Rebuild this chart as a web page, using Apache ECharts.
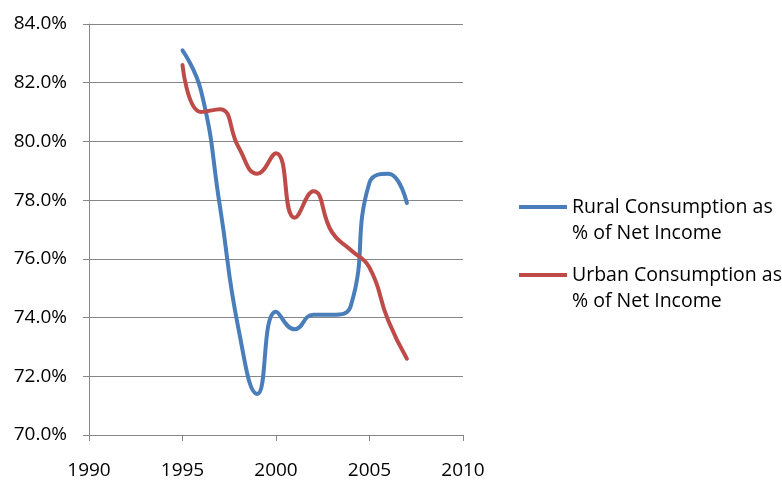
<!DOCTYPE html>
<html>
<head>
<meta charset="utf-8">
<script src="https://cdn.jsdelivr.net/npm/echarts@6/dist/echarts.min.js"></script>
<style>
  html, body { margin: 0; padding: 0; background: #fff; }
  #chart { width: 782px; height: 481px; }
</style>
</head>
<body>
<div id="chart"></div>
<script>
// values, in percent
const years = [1995, 1996, 1997, 1998, 1999, 2000, 2001, 2002, 2003, 2004, 2005, 2006, 2007];
const rural = [83.1, 81.7, 77.8, 73.6, 71.4, 74.2, 73.6, 74.1, 74.1, 74.4, 78.6, 78.9, 77.9];
const urban = [82.6, 81.0, 81.1, 79.8, 78.9, 79.6, 77.4, 78.3, 76.9, 76.3, 75.7, 73.9, 72.6];
const seriesNames = ['Rural Consumption as\n% of Net Income', 'Urban Consumption as\n% of Net Income'];

const axisGrey = '#868686';
const font = 'Open Sans';

let chart = echarts.init(document.getElementById('chart'));

function pairs(vals) {
  return years.map(function (y, i) { return [y, vals[i]]; });
}

chart.setOption({
  animation: false,
  grid: { left: 89, right: 319, top: 24, bottom: 46 },
  legend: {
    orient: 'vertical',
    left: 519,
    top: 194,
    padding: 0,
    itemWidth: 48,
    itemHeight: 52,
    itemGap: 16,
    // thick line near the top of the box so it sits beside the first text line
    icon: 'path://M0,0h0.01v0.01h-0.01Z M0,11H48V15H0Z M0,52h0.01v-0.01h-0.01Z',
    textStyle: { fontFamily: font, fontSize: 19.5, color: '#000', lineHeight: 26 },
    data: seriesNames
  },
  xAxis: {
    type: 'value',
    min: 1990,
    max: 2010,
    interval: 5,
    axisLine: { lineStyle: { color: axisGrey, width: 1 } },
    axisTick: { show: true, inside: false, length: 6, lineStyle: { color: axisGrey } },
    splitLine: { show: false },
    axisLabel: {
      margin: 26, color: '#000', fontFamily: font, fontSize: 19,
      formatter: function (v) { return String(v); }
    }
  },
  yAxis: {
    type: 'value',
    min: 70,
    max: 84,
    interval: 2,
    axisLine: { show: true, lineStyle: { color: axisGrey, width: 1 } },
    axisTick: { show: true, inside: false, length: 6, lineStyle: { color: axisGrey } },
    splitLine: { show: true, lineStyle: { color: axisGrey, width: 1 } },
    axisLabel: {
      margin: 22, color: '#000', fontFamily: font, fontSize: 19,
      formatter: function (v) { return v.toFixed(1) + '%'; }
    }
  },
  series: [{
    name: seriesNames[0],
    type: 'line',
    smooth: 0.5,
    showSymbol: false,
    color: '#4A7EBB',
    lineStyle: { width: 4, cap: 'round' },
    data: pairs(rural)
  }, {
    name: seriesNames[1],
    type: 'line',
    smooth: 0.5,
    showSymbol: false,
    color: '#BE4B48',
    lineStyle: { width: 4, cap: 'round' },
    data: pairs(urban)
  }]
});
</script>
</body>
</html>
